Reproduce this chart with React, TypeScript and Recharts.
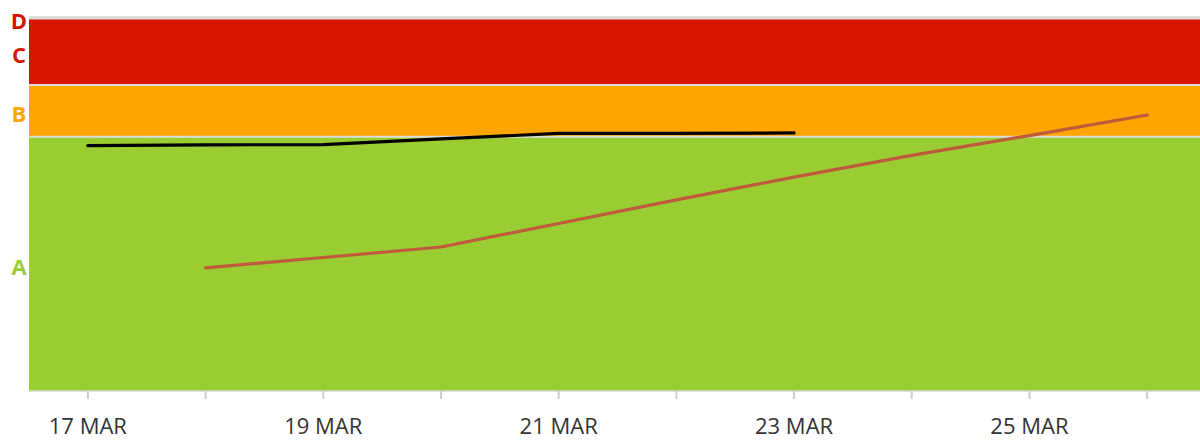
import React from 'react';
import { LineChart, Line, XAxis, YAxis, ReferenceArea, ReferenceLine } from 'recharts';

const days = ['17 MAR', '18 MAR', '19 MAR', '20 MAR', '21 MAR', '22 MAR', '23 MAR', '24 MAR', '25 MAR', '26 MAR'];
const labeledDays = ['17 MAR', '19 MAR', '21 MAR', '23 MAR', '25 MAR'];
const observed: (number | null)[] = [65.6, 65.8, 65.9, 67.4, 68.9, 68.9, 69.0, null, null, null];
const forecast: (number | null)[] = [null, 32.9, 35.7, 38.5, 44.8, 51.1, 57.2, 63.0, 68.3, 73.8];

const bandNames = ['A', 'B', 'C', 'D'];
const bandLower = [0, 68.0, 81.8, 99.6];
const bandUpper = [68.0, 81.8, 99.6, 100];
const bandFills = ['#9acd32', '#ffa500', '#d71400', '#d71400'];
const bandLabelColors = ['#9acd32', '#ffa500', '#d71400', '#d71400'];

// x positions in half-day units so each day sits in the middle of its slot
const data = days.map((d, i) => ({ pos: 2 * i + 1, day: d, observed: observed[i], forecast: forecast[i] }));
const dayTicks = days.map((_, i) => 2 * i + 1);
const bandMids = bandNames.map((_, i) => (bandLower[i] + bandUpper[i]) / 2);
const boundaries = [bandUpper[0], bandUpper[1], bandUpper[2], bandUpper[3]];

const BandTick = (props: any) => {
  const { y, payload } = props;
  const idx = bandMids.findIndex((m) => Math.abs(m - payload.value) < 1e-6);
  if (idx < 0) return null;
  return (
    <text
      x={19}
      y={y}
      dy={2}
      textAnchor="middle"
      dominantBaseline="central"
      fill={bandLabelColors[idx]}
      fontFamily="'Open Sans', sans-serif"
      fontWeight={700}
      fontSize={22}
    >
      {bandNames[idx]}
    </text>
  );
};

export default function App() {
  return (
    <div style={{ position: 'absolute', left: 0, top: 0, width: 1200, height: 444, overflow: 'hidden', background: '#fff' }}>
      <LineChart width={1206} height={444} data={data} margin={{ top: 17, right: 0, bottom: 0, left: 0 }}>
        {bandNames.map((n, i) => (
          <ReferenceArea
            key={n}
            y1={bandLower[i]}
            y2={bandUpper[i]}
            fill={bandFills[i]}
            fillOpacity={1}
            stroke="none"
            ifOverflow="visible"
          />
        ))}
        {boundaries.map((b) => (
          <ReferenceLine key={b} y={b} stroke="#dcdcdc" strokeWidth={2} ifOverflow="visible" />
        ))}
        <XAxis
          dataKey="pos"
          type="number"
          domain={[0, days.length * 2]}
          allowDataOverflow={true}
          ticks={dayTicks}
          interval={0}
          height={53}
          tickSize={8}
          tickMargin={19}
          tickLine={{ stroke: '#cccccc', strokeWidth: 2 }}
          axisLine={{ stroke: '#d6d6d6', strokeWidth: 1.5 }}
          tick={{ fill: '#333333', fontSize: 22, fontFamily: "'Open Sans', sans-serif" }}
          tickFormatter={(v: number) => {
            const d = days[(v - 1) / 2];
            return labeledDays.includes(d) ? d : '';
          }}
        />
        <YAxis
          width={29}
          domain={[0, 100]}
          allowDataOverflow={true}
          type="number"
          ticks={bandMids}
          interval={0}
          axisLine={false}
          tickLine={false}
          tick={<BandTick />}
        />
        <Line
          dataKey="observed"
          type="linear"
          stroke="#000000"
          strokeWidth={3.2}
          dot={false}
          activeDot={false}
          connectNulls={false}
          strokeLinecap="round"
          strokeLinejoin="round"
          isAnimationActive={false}
        />
        <Line
          dataKey="forecast"
          type="linear"
          stroke="#c05a3c"
          strokeWidth={3.2}
          dot={false}
          activeDot={false}
          connectNulls={false}
          strokeLinecap="round"
          strokeLinejoin="round"
          isAnimationActive={false}
        />
      </LineChart>
    </div>
  );
}
